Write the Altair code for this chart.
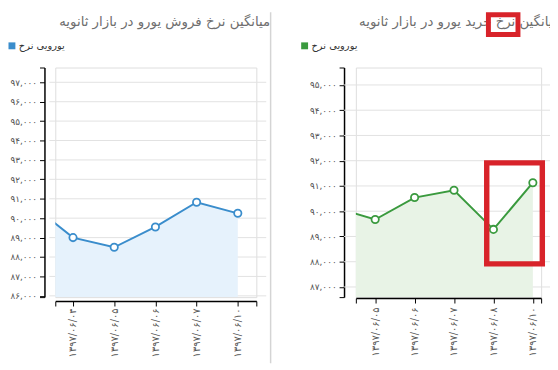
import altair as alt
import pandas as pd

# ---------------- data ----------------
sell_dates = ["۱۳۹۷/۰۶/۰۴", "۱۳۹۷/۰۶/۰۵", "۱۳۹۷/۰۶/۰۶", "۱۳۹۷/۰۶/۰۷", "۱۳۹۷/۰۶/۱۰"]
sell_values = [89000, 88500, 89550, 90820, 90250]
sell_before = 90700  # earlier point, cut off by the left edge of the plot

buy_dates = ["۱۳۹۷/۰۶/۰۵", "۱۳۹۷/۰۶/۰۶", "۱۳۹۷/۰۶/۰۷", "۱۳۹۷/۰۶/۰۸", "۱۳۹۷/۰۶/۱۰"]
buy_values = [89670, 90540, 90830, 89280, 91130]
buy_before = 90140

sell_ticks = [86000, 87000, 88000, 89000, 90000, 91000, 92000, 93000, 94000, 95000, 96000, 97000]
sell_tick_labels = ["۸۶,۰۰۰", "۸۷,۰۰۰", "۸۸,۰۰۰", "۸۹,۰۰۰", "۹۰,۰۰۰", "۹۱,۰۰۰",
                    "۹۲,۰۰۰", "۹۳,۰۰۰", "۹۴,۰۰۰", "۹۵,۰۰۰", "۹۶,۰۰۰", "۹۷,۰۰۰"]
buy_ticks = [87000, 88000, 89000, 90000, 91000, 92000, 93000, 94000, 95000]
buy_tick_labels = ["۸۷,۰۰۰", "۸۸,۰۰۰", "۸۹,۰۰۰", "۹۰,۰۰۰", "۹۱,۰۰۰",
                   "۹۲,۰۰۰", "۹۳,۰۰۰", "۹۴,۰۰۰", "۹۵,۰۰۰"]

sell_title = "میانگین نرخ فروش یورو در بازار ثانویه"
buy_title = "میانگین نرخ خرید یورو در بازار ثانویه"
series_name = "یورویی نرخ"  # word order as displayed in the reference legend

# highlighted segment in the buy chart (data space)
box_idx = [2.83, 4.24]
box_val = [87915, 91915]

FONT = "DejaVu Sans"
PLOT_H = 233


def ternary(field, keys, labels):
    expr = "''"
    for k, l in reversed(list(zip(keys, labels))):
        expr = f"({field} == {k} ? '{l}' : {expr})"
    return expr


def panel(dates, values, before, ticks, labels, title, line_color, fill_color,
          width, x_dom, y_dom, y_offset, x_offset, x_lab_pad, title_x,
          legend_x, grid_x1, grid_x2, divider_x=None, extra=None):
    n = len(dates)
    df = pd.DataFrame({"idx": list(range(-1, n)), "val": [before] + values})
    x_axis = alt.Axis(values=[x_dom[0]] + list(range(n)) + [x_dom[1]],
                      labelExpr=ternary("datum.value", list(range(n)), dates),
                      labelAngle=270, labelFontSize=10, labelColor="#555",
                      labelFont=FONT, labelPadding=x_lab_pad, tickSize=5,
                      tickColor="#000", domainColor="#000", domainWidth=1.5,
                      grid=False, offset=x_offset, title=None, labelOverlap=False,
                      labelFlush=False, labelBound=False)
    y_axis = alt.Axis(values=[y_dom[0]] + ticks + [y_dom[1]],
                      labelExpr=ternary("datum.value", ticks, labels),
                      labelFontSize=9, labelColor="#555", labelFont=FONT,
                      labelPadding=3, tickSize=5, tickColor="#000",
                      domainColor="#000", domainWidth=1.5, grid=False,
                      offset=y_offset, title=None, labelOverlap=False,
                      labelFlush=False, labelBound=False)
    xs = alt.Scale(domain=x_dom, nice=False, zero=False)
    ys = alt.Scale(domain=y_dom, nice=False, zero=False)
    X = alt.X("idx:Q", scale=xs, axis=x_axis)
    Y = alt.Y("val:Q", scale=ys, axis=y_axis)

    grid_df = pd.DataFrame({"val": ticks})
    grid = alt.Chart(grid_df).mark_rule(color="#e2e2e2", strokeWidth=1).encode(
        y=Y, x=alt.value(grid_x1), x2=alt.value(grid_x2))

    base = alt.Chart(df)
    area = base.mark_area(color=fill_color, clip=True).encode(x=X, y=Y)
    line = base.mark_line(color=line_color, strokeWidth=2, clip=True).encode(x=X, y=Y)
    pts = base.transform_filter("datum.idx >= 0").mark_point(
        filled=False, fill="white", fillOpacity=1, size=55, strokeWidth=1.8,
        opacity=1, color=line_color
    ).encode(x=X, y=Y)

    one = pd.DataFrame({"k": [0]})
    ttl = alt.Chart(one).mark_text(align="right", baseline="middle", fontSize=13.5,
                                   color="#6e6e6e", font=FONT).encode(
        x=alt.value(title_x), y=alt.value(-46), text=alt.value(title))
    leg_sq = alt.Chart(one).mark_square(size=49, color=line_color, filled=True,
                                        opacity=1).encode(
        x=alt.value(legend_x), y=alt.value(-22))
    leg_tx = alt.Chart(one).mark_text(align="left", baseline="middle", fontSize=10,
                                      color="#333", font=FONT).encode(
        x=alt.value(legend_x + 7), y=alt.value(-22), text=alt.value(series_name))

    layers = [grid, area, line, pts, ttl, leg_sq, leg_tx]
    if divider_x is not None:
        div = alt.Chart(one).mark_rule(color="#d4d4d4", strokeWidth=1.5).encode(
            x=alt.value(divider_x), y=alt.value(-56), y2=alt.value(300))
        layers.append(div)
    if extra is not None:
        layers.extend(extra(xs, ys, x_axis, y_axis, one))
    return alt.layer(*layers).properties(width=width, height=PLOT_H)


def buy_extra(xs, ys, x_axis, y_axis, one):
    red = "#d8232a"
    title_box = alt.Chart(one).mark_rect(filled=False, stroke=red, strokeWidth=5).encode(
        x=alt.value(134.5), x2=alt.value(164.5), y=alt.value(-53.5), y2=alt.value(-33.5))
    seg_box = alt.Chart(one).mark_rect(filled=False, stroke=red, strokeWidth=5.5).encode(
        x=alt.X(datum=box_idx[0], type="quantitative", scale=xs, axis=x_axis),
        x2=alt.X2(datum=box_idx[1]),
        y=alt.Y(datum=box_val[1], type="quantitative", scale=ys, axis=y_axis),
        y2=alt.Y2(datum=box_val[0]))
    return [title_box, seg_box]


left = panel(sell_dates, sell_values, sell_before, sell_ticks, sell_tick_labels,
             sell_title, "#3a8dcc", "#e6f2fc", 204, [-0.43, 4.45], [85934, 97761],
             11, 4, 2, 218, -44, -6, 214, divider_x=218.5)

right = panel(buy_dates, buy_values, buy_before, buy_ticks, buy_tick_labels,
              buy_title, "#3a9a3e", "#e8f3e6", 188, [-0.49, 4.21], [86598, 95691],
              12, 1, 4, 207, -52, -12, 205, extra=buy_extra)

chart = alt.hconcat(left, right, spacing=29).resolve_scale(
    x="independent", y="independent"
).properties(
    autosize=alt.AutoSizeParams(type="none"),
    padding={"left": 48, "top": 56, "right": 502, "bottom": 306}
).configure_view(strokeWidth=0).configure(font=FONT)

chart.save("out.html", embed_options={"renderer": "svg", "actions": False})
